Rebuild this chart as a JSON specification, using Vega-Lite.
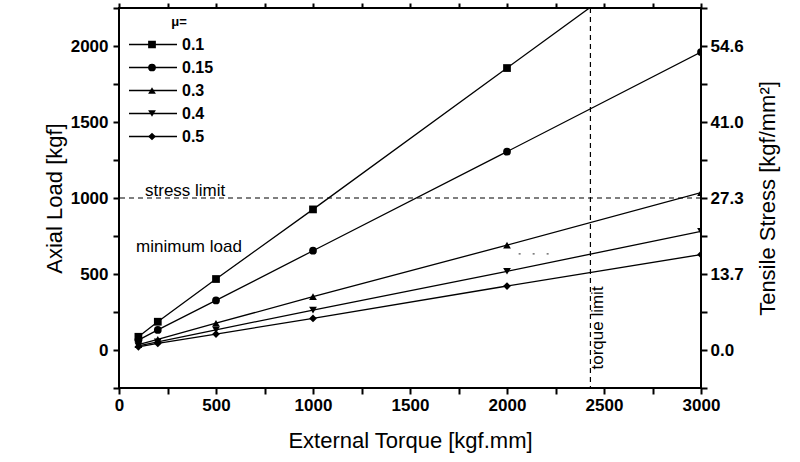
{
  "$schema": "https://vega.github.io/schema/vega-lite/v6.json",
  "width": 582,
  "height": 380,
  "autosize": {"type": "none"},
  "padding": {"left": 119, "top": 8, "right": 99, "bottom": 74},
  "background": "white",
  "config": {
    "view": {"stroke": "black", "strokeWidth": 2},
    "font": "Liberation Sans",
    "axis": {
      "domain": false,
      "grid": false,
      "labelColor": "black",
      "labelFont": "Liberation Sans",
      "labelFontSize": 17,
      "labelFontWeight": "bold",
      "titleColor": "black",
      "titleFont": "Liberation Sans",
      "titleFontSize": 22,
      "titleFontWeight": "normal"
    }
  },
  "datasets": {
    "series": [
      {"torque": 100, "load": 87, "mu": "0.1"},
      {"torque": 200, "load": 186, "mu": "0.1"},
      {"torque": 500, "load": 467, "mu": "0.1"},
      {"torque": 1000, "load": 925, "mu": "0.1"},
      {"torque": 2000, "load": 1855, "mu": "0.1"},
      {"torque": 3000, "load": 2785, "mu": "0.1"},
      {"torque": 100, "load": 65, "mu": "0.15"},
      {"torque": 200, "load": 132, "mu": "0.15"},
      {"torque": 500, "load": 326, "mu": "0.15"},
      {"torque": 1000, "load": 653, "mu": "0.15"},
      {"torque": 2000, "load": 1305, "mu": "0.15"},
      {"torque": 3000, "load": 1960, "mu": "0.15"},
      {"torque": 100, "load": 35, "mu": "0.3"},
      {"torque": 200, "load": 70, "mu": "0.3"},
      {"torque": 500, "load": 176, "mu": "0.3"},
      {"torque": 1000, "load": 351, "mu": "0.3"},
      {"torque": 2000, "load": 690, "mu": "0.3"},
      {"torque": 3000, "load": 1035, "mu": "0.3"},
      {"torque": 100, "load": 27, "mu": "0.4"},
      {"torque": 200, "load": 53, "mu": "0.4"},
      {"torque": 500, "load": 133, "mu": "0.4"},
      {"torque": 1000, "load": 263, "mu": "0.4"},
      {"torque": 2000, "load": 518, "mu": "0.4"},
      {"torque": 3000, "load": 780, "mu": "0.4"},
      {"torque": 100, "load": 21, "mu": "0.5"},
      {"torque": 200, "load": 43, "mu": "0.5"},
      {"torque": 500, "load": 105, "mu": "0.5"},
      {"torque": 1000, "load": 208, "mu": "0.5"},
      {"torque": 2000, "load": 421, "mu": "0.5"},
      {"torque": 3000, "load": 628, "mu": "0.5"}
    ],
    "labels": [
      {"torque": 134, "load": 1045, "text": "stress limit"},
      {"torque": 88, "load": 680, "text": "minimum load"}
    ]
  },
  "layer": [
    {
      "data": {"values": [{"load": 1000}]},
      "mark": {"type": "rule", "color": "black", "strokeWidth": 1.2, "strokeDash": [5, 4]},
      "encoding": {
        "y": {"field": "load", "type": "quantitative", "scale": {"domain": [-250, 2250], "nice": false}, "axis": null}
      }
    },
    {
      "data": {"values": [{"torque": 2430}]},
      "mark": {"type": "rule", "color": "black", "strokeWidth": 1.2, "strokeDash": [5, 4]},
      "encoding": {
        "x": {"field": "torque", "type": "quantitative", "scale": {"domain": [0, 3000], "nice": false}, "axis": null}
      }
    },
    {
      "data": {"values": [{"torque": 2060, "torque2": 2230, "load": 632}]},
      "mark": {"type": "rule", "color": "#555", "strokeWidth": 1.2, "strokeDash": [2, 12]},
      "encoding": {
        "x": {"field": "torque", "type": "quantitative", "axis": null},
        "x2": {"field": "torque2"},
        "y": {"field": "load", "type": "quantitative", "axis": null}
      }
    },
    {
      "data": {"name": "series"},
      "mark": {"type": "line", "strokeWidth": 1.3, "clip": true},
      "encoding": {
        "x": {
          "field": "torque", "type": "quantitative",
          "scale": {"domain": [0, 3000], "nice": false},
          "axis": {
            "orient": "bottom",
            "values": [0, 250, 500, 750, 1000, 1250, 1500, 1750, 2000, 2250, 2500, 2750, 3000],
            "labelExpr": "datum.value % 500 === 0 ? datum.label : ''",
            "format": "d",
            "ticks": true,
            "tickColor": "black",
            "tickWidth": 2,
            "tickSize": 6,
            "labelPadding": 3,
            "labelFlush": false,
            "title": "External Torque [kgf.mm]",
            "titlePadding": 17
          }
        },
        "y": {
          "field": "load", "type": "quantitative",
          "scale": {"domain": [-250, 2250], "nice": false},
          "axis": {
            "orient": "left",
            "values": [-250, 0, 250, 500, 750, 1000, 1250, 1500, 1750, 2000, 2250],
            "labelExpr": "datum.value % 500 === 0 && datum.value >= 0 && datum.value <= 2000 ? datum.label : ''",
            "format": "d",
            "ticks": true,
            "tickColor": "black",
            "tickWidth": 2,
            "tickSize": 6,
            "labelPadding": 5,
            "labelFlush": false,
            "title": "Axial Load [kgf]",
            "titlePadding": 4
          }
        },
        "color": {
          "field": "mu", "type": "nominal",
          "scale": {
            "domain": ["0.1", "0.15", "0.3", "0.4", "0.5", "-"],
            "range": ["black", "black", "black", "black", "black", "black"]
          },
          "legend": {
            "orient": "none",
            "legendX": 9,
            "legendY": 8,
            "padding": 0,
            "values": ["0.1", "0.15", "0.3", "0.4", "0.5"],
            "title": "μ=",
            "titleFontSize": 13,
            "titleFontWeight": "bold",
            "titleColor": "transparent",
            "titlePadding": 8,
            "labelFontSize": 16,
            "labelFontWeight": "bold",
            "labelOpacity": 0,
            "labelFont": "Liberation Sans",
            "symbolType": "stroke",
            "symbolSize": 2304,
            "symbolStrokeColor": "black",
            "symbolStrokeWidth": 1.3,
            "clipHeight": 15,
            "rowPadding": 6,
            "zindex": 0
          }
        }
      }
    },
    {
      "data": {"name": "series"},
      "mark": {"type": "point", "filled": true, "color": "black", "size": 60, "opacity": 1, "clip": true},
      "encoding": {
        "x": {
          "field": "torque", "type": "quantitative",
          "axis": {
            "orient": "top",
            "values": [0, 250, 500, 750, 1000, 1250, 1500, 1750, 2000, 2250, 2500, 2750, 3000],
            "labels": false,
            "ticks": true,
            "tickColor": "black",
            "tickWidth": 2,
            "tickSize": 5,
            "title": null
          }
        },
        "y": {
          "field": "load", "type": "quantitative",
          "axis": {
            "orient": "right",
            "values": [-250, 0, 250, 500, 750, 1000, 1250, 1500, 1750, 2000, 2250],
            "labelExpr": "datum.value % 500 === 0 && datum.value >= 0 && datum.value <= 2000 ? format(datum.value * 0.02731, '.1f') : ''",
            "ticks": true,
            "tickColor": "black",
            "tickWidth": 2,
            "tickSize": 6,
            "labelPadding": 3,
            "labelFlush": false,
            "title": "Tensile Stress [kgf/mm²]",
            "titleAngle": 270,
            "titleBaseline": "top",
            "titlePadding": 14
          }
        },
        "shape": {
          "field": "mu", "type": "nominal",
          "scale": {
            "domain": ["0.1", "0.15", "0.3", "0.4", "0.5"],
            "range": ["square", "circle", "triangle-up", "triangle-down", "diamond"]
          },
          "legend": {
            "orient": "none",
            "legendX": 25,
            "legendY": 8,
            "padding": 0,
            "title": "μ=",
            "titleFontSize": 13,
            "titleFontWeight": "bold",
            "titleColor": "black",
            "titleAnchor": "middle",
            "titlePadding": 8,
            "labelFontSize": 16,
            "labelFontWeight": "bold",
            "labelColor": "black",
            "labelFont": "Liberation Sans",
            "labelOffset": 22,
            "symbolSize": 60,
            "symbolFillColor": "black",
            "symbolStrokeColor": "black",
            "symbolStrokeWidth": 1,
            "symbolOpacity": 1,
            "clipHeight": 15,
            "rowPadding": 6,
            "zindex": 1
          }
        }
      }
    },
    {
      "data": {"name": "labels"},
      "mark": {"type": "text", "align": "left", "baseline": "middle", "fontSize": 17, "font": "Liberation Sans", "color": "black"},
      "encoding": {
        "x": {"field": "torque", "type": "quantitative", "axis": null},
        "y": {"field": "load", "type": "quantitative", "axis": null},
        "text": {"field": "text"}
      }
    },
    {
      "data": {"values": [{"torque": 2470, "load": 145, "text": "torque limit"}]},
      "mark": {"type": "text", "align": "center", "baseline": "middle", "angle": 270, "fontSize": 17, "font": "Liberation Sans", "color": "black"},
      "encoding": {
        "x": {"field": "torque", "type": "quantitative", "axis": null},
        "y": {"field": "load", "type": "quantitative", "axis": null},
        "text": {"field": "text"}
      }
    }
  ],
  "resolve": {
    "axis": {"x": "independent", "y": "independent"}
  }
}
